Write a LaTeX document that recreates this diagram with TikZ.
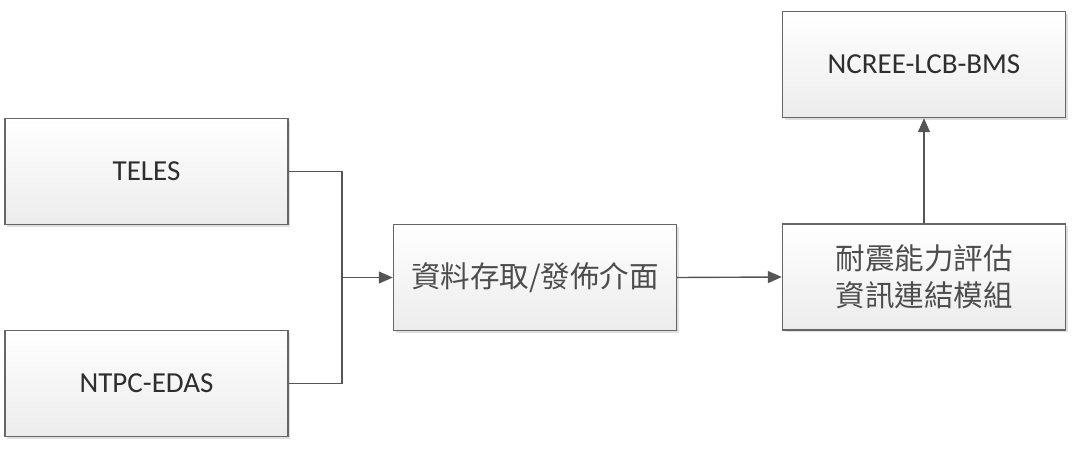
\documentclass[tikz,border=0pt]{standalone}
\usepackage{fontspec}
\setmainfont{Carlito}
\newfontfamily\cjk{Noto Sans CJK TC}
\usetikzlibrary{arrows.meta,shadows}
\definecolor{boxline}{HTML}{666666}
\definecolor{boxbot}{HTML}{ECECEC}
\definecolor{conn}{HTML}{555555}
\definecolor{txt}{HTML}{2E2E2E}
\begin{document}
\begin{tikzpicture}[x=1pt,y=-1pt,
  box/.style={draw=boxline, line width=1.4pt, top color=white, bottom color=boxbot,
    minimum width=283pt, minimum height=106pt, inner sep=0pt, align=center,
    drop shadow={shadow xshift=2pt, shadow yshift=-2pt, opacity=0.25, fill=gray},
    text=txt},
  lat/.style={font=\fontsize{29}{35}\selectfont},
  cj/.style={font=\cjk\fontsize{29.5}{37}\selectfont, text=txt!85!white},
  conline/.style={draw=conn, line width=1.4pt},
  arr/.style={conline, -{Triangle[length=14pt,width=12pt]}}]
\useasboundingbox (0,0) rectangle (1082,455);
\node[box,lat] (teles) at (146.5,171.5) {TELES};
\node[box,lat] (ntpc) at (146.5,383.5) {NTPC-EDAS};
\node[box,cj] (mid) at (535,277.5) {資料存取/發佈介面};
\node[box,cj] (mod) at (924,277) {耐震能力評估\\資訊連結模組};
\node[box,lat] (top) at (924,64.5) {NCREE-LCB-BMS};
\coordinate (j) at (342,277.5);
\draw[conline] (teles.east) -| (j);
\draw[conline] (ntpc.east) -| (j);
\draw[arr] (j) -- (mid.west);
\draw[arr] (mid.east) -- (mod.west);
\draw[arr] (mod.north) -- (top.south);
\end{tikzpicture}
\end{document}
